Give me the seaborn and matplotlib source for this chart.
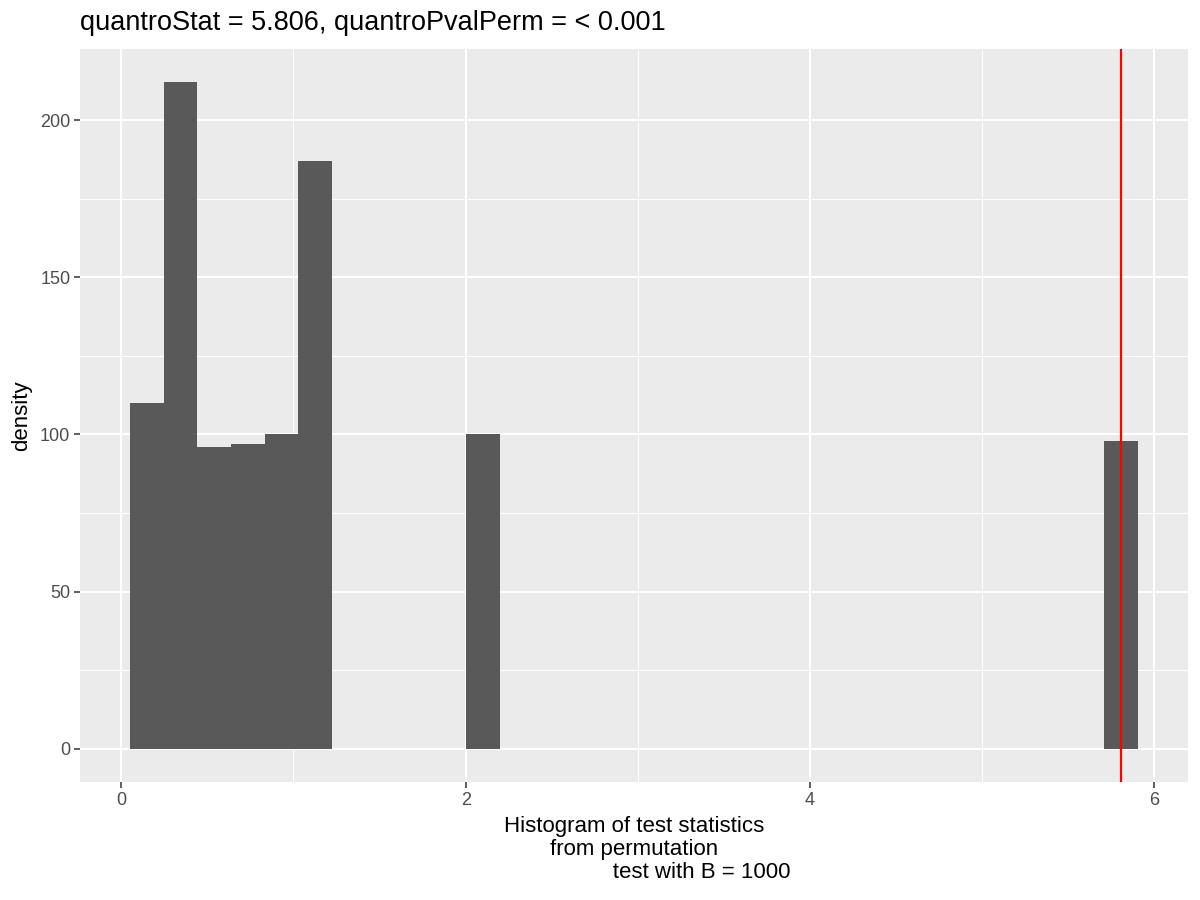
import numpy as np
import pandas as pd
import matplotlib
matplotlib.use("Agg")
import matplotlib.pyplot as plt
import seaborn as sns
from matplotlib.ticker import MultipleLocator

# bins that hold permutation statistics (centres) and their density heights
bin_centers = [0.150, 0.345, 0.540, 0.735, 0.930, 1.125, 2.100, 5.806]
densities = [110, 212, 96, 97, 100, 187, 100, 98]
n_bins = 30
bin_range = (0.0523, 5.903)
quantro_stat = 5.806

df = pd.DataFrame({"stat": bin_centers, "density": densities})

sns.set_theme(style="darkgrid")
plt.rcParams["font.family"] = ["Liberation Sans", "DejaVu Sans"]

fig, ax = plt.subplots(figsize=(12, 9), dpi=100)
fig.subplots_adjust(left=80 / 1200, right=1188 / 1200, top=1 - 49 / 900, bottom=1 - 782 / 900)

sns.histplot(data=df, x="stat", weights="density", bins=n_bins, binrange=bin_range,
             color="#595959", alpha=1, edgecolor="none", linewidth=0, ax=ax)
ax.axvline(quantro_stat, color="red", lw=1.6)

ax.set_facecolor("#EBEBEB")
ax.set_xlim(-0.240, 6.196)
ax.set_ylim(-10.6, 222.6)
ax.xaxis.set_major_locator(MultipleLocator(2))
ax.xaxis.set_minor_locator(MultipleLocator(1))
ax.yaxis.set_major_locator(MultipleLocator(50))
ax.yaxis.set_minor_locator(MultipleLocator(25))
ax.grid(which="major", color="white", lw=1.5)
ax.grid(which="minor", color="white", lw=0.75)
ax.set_axisbelow(True)
for s in ax.spines.values():
    s.set_visible(False)
ax.tick_params(which="major", length=4, width=1.1, color="#333333", labelcolor="#4D4D4D",
               labelsize=13, pad=3, bottom=True, left=True)
ax.tick_params(which="minor", length=0)

ax.set_ylabel("density", fontsize=16, color="black", labelpad=6)
ax.set_xlabel("Histogram of test statistics\nfrom permutation\n"
              + " " * 22 + "test with B = 1000",
              fontsize=16, color="black", labelpad=5, linespacing=1.15)
ax.set_title("quantroStat = 5.806, quantroPvalPerm = < 0.001",
             loc="left", fontsize=19.5, color="black", pad=14)

fig.savefig("out.png", dpi=100)
